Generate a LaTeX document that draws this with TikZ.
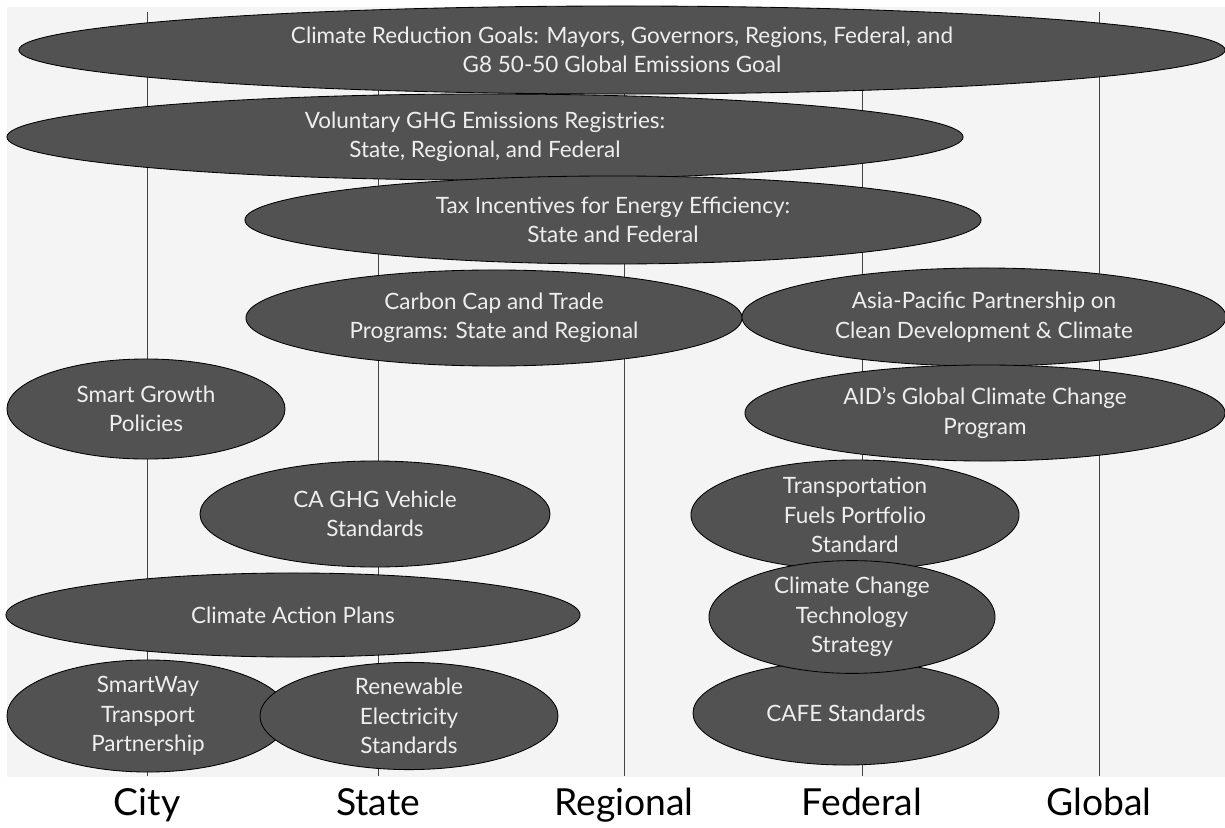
\documentclass[tikz,border=0pt]{standalone}
\usepackage{fontspec}
\setmainfont{Lato}
\usetikzlibrary{shapes.geometric}
\definecolor{paper}{HTML}{F4F4F4}
\definecolor{blob}{HTML}{525252}
\definecolor{blobtext}{HTML}{EEEEEE}
\definecolor{axisgray}{HTML}{444444}

\begin{document}
\begin{tikzpicture}[x=0.025cm, y=-0.025cm,
    policy/.style={shape=ellipse, draw=black, line width=0.6pt, fill=blob,
        text=blobtext, inner sep=0pt, align=center,
        font=\fontsize{16}{21}\selectfont},
    level/.style={font=\fontsize{26.5}{30}\selectfont, inner sep=0pt, anchor=base},
    axis/.style={draw=axisgray, line width=0.7pt}]

    \useasboundingbox (0,0) rectangle (1225,828);
    \fill[white] (0,0) rectangle (1225,828);
    \fill[paper] (7,7) rectangle (1225,777);
    \fill[white] (42,777) rectangle (1225,828);

    % jurisdiction levels along the bottom
    \foreach \lvl/\x in {City/147, State/378, Regional/624, Federal/862, Global/1099} {
        \node[level] at (\x,815) (\lvl) {\lvl};
        \coordinate (\lvl-top) at (\x,12);
        \draw[axis, shorten >=8pt] (\lvl-top) -- (\lvl.north);
    }

    % policies
    \node[policy, minimum width=30.15cm, minimum height=2.2cm] at (622,50) (goals)
        {Climate Reduction Goals: Mayors, Governors, Regions, Federal, and\\G8 50-50 Global Emissions Goal};
    \node[policy, minimum width=23.9cm, minimum height=2.15cm] at (485,137) (registry)
        {Voluntary GHG Emissions Registries:\\State, Regional, and Federal};
    \node[policy, minimum width=18.4cm, minimum height=2.2cm] at (613,220) (tax)
        {Tax Incentives for Energy Efficiency:\\State and Federal};
    \node[policy, minimum width=12.4cm, minimum height=2.4cm] at (494,318) (captrade)
        {Carbon Cap and Trade\\Programs: State and Regional};
    \node[policy, minimum width=12.1cm, minimum height=2.45cm] at (984,317) (asiapac)
        {Asia-Pacific Partnership on\\Clean Development \& Climate};
    \node[policy, minimum width=12.0cm, minimum height=2.4cm] at (985,413) (aid)
        {AID's Global Climate Change\\Program};
    \node[policy, minimum width=6.95cm, minimum height=2.5cm] at (146,409) (growth)
        {Smart Growth\\Policies};
    \node[policy, minimum width=8.75cm, minimum height=2.65cm] at (375,514) (vehicle)
        {CA GHG Vehicle\\Standards};
    \node[policy, minimum width=8.2cm, minimum height=2.75cm] at (855,515) (fuels)
        {Transportation\\Fuels Portfolio\\Standard};
    \node[policy, minimum width=14.35cm, minimum height=2.1cm] at (293,615) (action)
        {Climate Action Plans};
    \node[policy, minimum width=7.65cm, minimum height=2.6cm] at (846,713) (cafe)
        {CAFE Standards};
    \node[policy, minimum width=7.15cm, minimum height=2.5cm] at (852,617) (techstrat)
        {Climate Change\\Technology\\Strategy};
    \node[policy, minimum width=7.05cm, minimum height=2.55cm] at (148,716) (smartway)
        {SmartWay\\Transport\\Partnership};
    \node[policy, minimum width=7.45cm, minimum height=2.6cm] at (409,716) (renewable)
        {Renewable\\Electricity\\Standards};
\end{tikzpicture}
\end{document}
